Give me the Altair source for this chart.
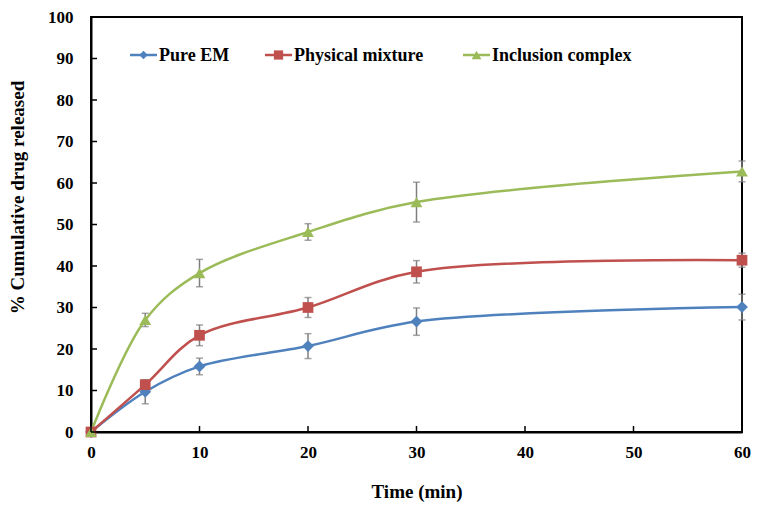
import altair as alt
import pandas as pd

# ---- data ----
times = [0, 5, 10, 20, 30, 60]
series_names = ["Pure EM", "Physical mixture", "Inclusion complex"]
pure_em = [0, 9.7, 15.8, 20.7, 26.6, 30.1]
pure_em_err = [0, 2.9, 2.0, 3.0, 3.3, 3.1]
physical = [0, 11.4, 23.3, 30.0, 38.6, 41.4]
physical_err = [0, 1.0, 2.5, 2.4, 2.7, 1.7]
inclusion = [0, 27.0, 38.3, 48.2, 55.4, 62.8]
inclusion_err = [0, 1.6, 3.3, 2.0, 4.8, 2.5]
x_ticks = [0, 10, 20, 30, 40, 50, 60]
y_ticks = [0, 10, 20, 30, 40, 50, 60, 70, 80, 90, 100]

# ---- styles / layout ----
colors = ["#4F81BD", "#C0504D", "#9BBB59"]
shapes = ["diamond", "square", "triangle-up"]
marker_sizes = [140, 115, 140]
legend_marker_sizes = [70, 85, 95]
legend_line_x = [39, 174, 372]   # legend entry starts, px from the plot's left edge
LEGEND_LINE_LEN = 27
LEGEND_Y = 38                    # px from the plot's top edge

rows = []
for name, vals, errs in zip(series_names, [pure_em, physical, inclusion],
                            [pure_em_err, physical_err, inclusion_err]):
    for t, v, e in zip(times, vals, errs):
        rows.append({"time": t, "release": v, "lo": v - e, "hi": v + e,
                     "err": e, "series": name})
df = pd.DataFrame(rows)
err_df = df[df["err"] > 0]
xt_df = pd.DataFrame({"t": x_ticks})
yt_df = pd.DataFrame({"v": y_ticks})
legend_df = pd.DataFrame({"series": series_names})

W, H = 651, 415
TOP = 9
FONT = "Liberation Serif"
GRAY = "#7F7F7F"

x_scale = alt.Scale(domain=[0, 60], nice=False, zero=False)
y_scale = alt.Scale(domain=[0, 100], nice=False, zero=False)

x_axis = alt.Axis(values=x_ticks, title="Time (min)", ticks=False, labelPadding=12,
                  labelFlush=False, titleY=59, titleBaseline="middle")
y_axis = alt.Axis(values=y_ticks, title="% Cumulative drug released", ticks=False,
                  labelPadding=18, titleX=-74, titleY=197 - 8 - TOP, titleBaseline="middle")


def X(field):
    return alt.X(field, scale=x_scale, axis=x_axis)


def Y(field):
    return alt.Y(field, scale=y_scale, axis=y_axis)


err_rule = alt.Chart(err_df).mark_rule(color=GRAY, strokeWidth=1.5).encode(
    x=X("time:Q"), y=Y("lo:Q"), y2="hi:Q")
err_lo = alt.Chart(err_df).mark_tick(orient="horizontal", size=7, thickness=1.5, color=GRAY).encode(
    x=X("time:Q"), y=Y("lo:Q"))
err_hi = alt.Chart(err_df).mark_tick(orient="horizontal", size=7, thickness=1.5, color=GRAY).encode(
    x=X("time:Q"), y=Y("hi:Q"))

lines = alt.Chart(df).mark_line(strokeWidth=2.5, interpolate="catmull-rom").encode(
    x=X("time:Q"), y=Y("release:Q"),
    color=alt.Color("series:N", scale=alt.Scale(domain=series_names, range=colors), legend=None),
    order="time:Q",
)

point_layers = []
for name, col, shp, sz in zip(series_names, colors, shapes, marker_sizes):
    point_layers.append(
        alt.Chart(df).transform_filter(alt.datum.series == name)
        .mark_point(filled=True, opacity=1, size=sz, shape=shp, color=col)
        .encode(x=X("time:Q"), y=Y("release:Q"))
    )

# legend (inside the plot, one row): line + marker + label per series
legend_layers = []
for name, col, shp, lsz, lx in zip(series_names, colors, shapes, legend_marker_sizes, legend_line_x):
    src = alt.Chart(legend_df).transform_filter(alt.datum.series == name)
    legend_layers.append(src.mark_rule(color=col, strokeWidth=2.5).encode(
        x=alt.value(lx), x2=alt.value(lx + LEGEND_LINE_LEN), y=alt.value(LEGEND_Y)))
    legend_layers.append(src.mark_point(filled=True, opacity=1, shape=shp, size=lsz, color=col).encode(
        x=alt.value(lx + LEGEND_LINE_LEN / 2), y=alt.value(LEGEND_Y)))
    legend_layers.append(src.mark_text(align="left", baseline="middle", font=FONT, fontSize=18,
                                       fontWeight="bold", color="black").encode(
        x=alt.value(lx + LEGEND_LINE_LEN + 2), y=alt.value(LEGEND_Y + 1), text="series:N"))

x_tick_marks = alt.Chart(xt_df).mark_rule(color="black", strokeWidth=1.5).encode(
    x=X("t:Q"), y=alt.value(H), y2=alt.value(H - 6))
y_tick_marks = alt.Chart(yt_df).mark_rule(color="black", strokeWidth=1.5).encode(
    y=Y("v:Q"), x=alt.value(0), x2=alt.value(6))

chart = alt.layer(err_rule, err_lo, err_hi, lines, *point_layers, *legend_layers,
                  x_tick_marks, y_tick_marks).properties(
    width=W, height=H,
    padding={"left": 83, "top": TOP, "right": 10, "bottom": 498 - TOP - H},
    autosize=alt.AutoSizeParams(type="none"),
    background="white",
).configure_view(
    stroke="black", strokeWidth=2,
).configure_axis(
    grid=False, domainColor="black", domainWidth=2,
    labelFont=FONT, labelFontSize=17, labelFontWeight="bold", labelColor="black",
    titleFont=FONT, titleFontSize=19, titleFontWeight="bold", titleColor="black",
)

chart.save("out.html", embed_options={"renderer": "svg", "actions": False})
